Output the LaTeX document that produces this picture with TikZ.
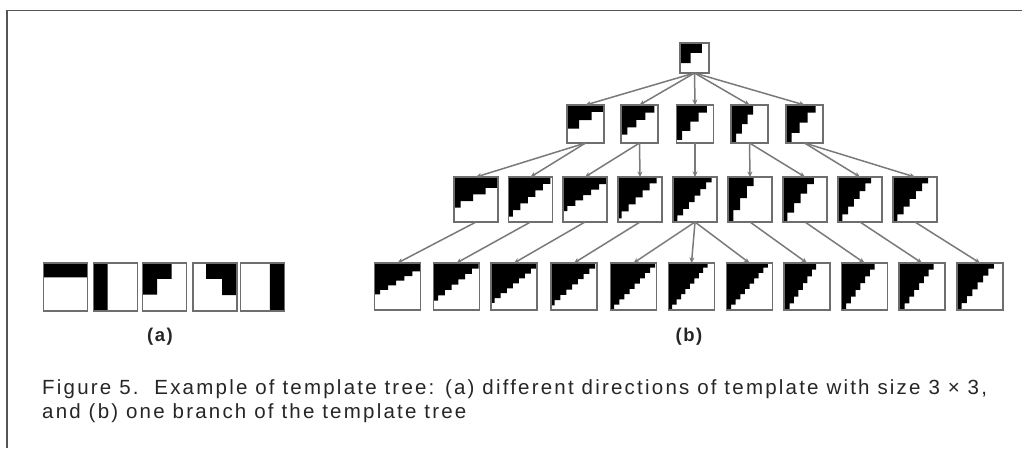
\documentclass[tikz,border=0pt]{standalone}
\usepackage{fontspec}
\setmainfont{Liberation Sans}
\newfontfamily\capfont[LetterSpace=10.8]{Liberation Sans}
\newfontfamily\labfont[LetterSpace=8]{Liberation Sans}
\usetikzlibrary{arrows.meta}

\definecolor{framegray}{HTML}{555555}
\definecolor{edgegray}{HTML}{7A7A7A}
\definecolor{cellgray}{HTML}{6E6E6E}
\definecolor{inkdark}{HTML}{262626}

\tikzset{
  tcell/.style={fill=white, draw=none, inner sep=0pt, outer sep=0pt},
  tframe/.style={draw=cellgray, line width=1.3pt},
  edge/.style={draw=edgegray, line width=1.5pt, -{Stealth[length=5.5pt,width=5pt]}},
  sublabel/.style={font=\labfont\bfseries\fontsize{18.5}{21}\selectfont, text=inkdark, inner sep=0pt},
  caption/.style={font=\capfont\fontsize{20.5}{24}\selectfont, text=inkdark, anchor=base west, inner sep=0pt},
  border/.style={draw=framegray, line width=1.8pt},
}

% template cell: name, centre, width, height,
% first-row width, first-row depth, last-row width, last-row depth, further rows
\newcommand{\tpl}[9]{%
  \node[tcell, minimum width=#3pt, minimum height=#4pt] (#1) at #2 {};
  \begin{scope}[shift={(#1.north west)}, x=#3pt, y=#4pt]
    \fill[black] (0,0) -- (#5,0) -- (#5,-#6)
      \foreach \k in {1,...,#9} {
        -- ++({-(#5-#7)/#9},0) -- ++(0,{-(#8-#6)/#9})
      }
      -- (0,-#8) -- cycle;
    \draw[tframe] (0,0) rectangle (1,-1);
  \end{scope}}
% same cell, black region anchored at the top right corner
\newcommand{\tplr}[9]{%
  \node[tcell, minimum width=#3pt, minimum height=#4pt] (#1) at #2 {};
  \begin{scope}[shift={(#1.north east)}, x=-#3pt, y=#4pt]
    \fill[black] (0,0) -- (#5,0) -- (#5,-#6)
      \foreach \k in {1,...,#9} {
        -- ++({-(#5-#7)/#9},0) -- ++(0,{-(#8-#6)/#9})
      }
      -- (0,-#8) -- cycle;
    \draw[tframe] (0,0) rectangle (1,-1);
  \end{scope}}

\begin{document}
\begin{tikzpicture}[x=1pt, y=-1pt]
\useasboundingbox (0,0) rectangle (1022,448);
\fill[white] (0,0) rectangle (1022,448);

% frame
\draw[border] (7,448) -- (7,10.5) -- (1022,10.5);

% (a) the five 3x3 directions
\tpl{a1}{(65.5,287)}{44}{48}{1}{0.3}{1}{0.3}{1}
\tpl{a2}{(115.5,287)}{44}{48}{0.32}{1}{0.32}{1}{1}
\tpl{a3}{(164.5,287)}{44}{48}{0.66}{0.33}{0.33}{0.66}{1}
\tplr{a4}{(215,287)}{44}{48}{0.7}{0.33}{0.34}{0.67}{1}
\tplr{a5}{(262.5,287)}{44}{48}{0.33}{1}{0.33}{1}{1}
\node[sublabel] (la) at (160,337) {(a)};

% (b) one branch of the tree
\tpl{r}{(694.5,58)}{29}{30}{0.75}{0.33}{0.37}{0.67}{1}

\tpl{m1}{(585.5,124)}{37}{38}{1}{0.18}{0.33}{0.62}{2}
\tpl{m2}{(639.5,124)}{37}{38}{0.9}{0.2}{0.17}{0.78}{3}
\tpl{m3}{(695,124)}{37}{38}{0.82}{0.2}{0.15}{0.92}{3}
\tpl{m4}{(749.5,124)}{37}{38}{0.6}{0.25}{0.14}{1}{3}
\tpl{m5}{(804.5,124)}{37}{38}{0.8}{0.2}{0.15}{1}{3}

\tpl{n1}{(476,199.5)}{44}{45}{1}{0.24}{0.15}{0.68}{3}
\tpl{n2}{(530.5,199.5)}{44}{45}{0.95}{0.15}{0.1}{0.88}{5}
\tpl{n3}{(585,199.5)}{44}{45}{1}{0.16}{0.1}{0.76}{5}
\tpl{n4}{(640,199.5)}{44}{45}{0.88}{0.14}{0.08}{0.92}{5}
\tpl{n5}{(695,199.5)}{44}{45}{0.88}{0.12}{0.1}{1}{6}
\tpl{n6}{(750,199.5)}{44}{45}{0.58}{0.2}{0.12}{1}{3}
\tpl{n7}{(805,199.5)}{44}{45}{0.7}{0.16}{0.1}{1}{4}
\tpl{n8}{(860,199.5)}{44}{45}{0.75}{0.14}{0.1}{1}{5}
\tpl{n9}{(915,199.5)}{44}{45}{0.8}{0.14}{0.1}{1}{5}

\tpl{p1}{(397.5,286.5)}{46}{47}{1}{0.18}{0.12}{0.67}{5}
\tpl{p2}{(456.5,286.5)}{46}{47}{0.98}{0.12}{0.1}{0.8}{6}
\tpl{p3}{(514,286.5)}{46}{47}{1}{0.12}{0.08}{0.85}{7}
\tpl{p4}{(574,286.5)}{46}{47}{0.96}{0.12}{0.08}{0.9}{7}
\tpl{p5}{(633.5,286.5)}{46}{47}{0.97}{0.1}{0.08}{1}{8}
\tpl{p6}{(691.5,286.5)}{46}{47}{0.85}{0.1}{0.08}{1}{8}
\tpl{p7}{(749.5,286.5)}{46}{47}{0.9}{0.1}{0.1}{1}{8}
\tpl{p8}{(807,286.5)}{46}{47}{0.7}{0.14}{0.12}{1}{6}
\tpl{p9}{(864.5,286.5)}{46}{47}{0.72}{0.14}{0.1}{1}{6}
\tpl{p10}{(922,286.5)}{46}{47}{0.75}{0.14}{0.12}{1}{6}
\tpl{p11}{(980,286.5)}{46}{47}{0.8}{0.12}{0.1}{1}{6}

\node[sublabel] (lb) at (689,337) {(b)};

% connectors
\foreach \c in {m1,m2,m3,m4,m5} \draw[edge] (r.south) -- (\c.north);
\draw[edge] (m1.south) -- (n1.north);
\draw[edge] (m1.south) -- (n2.north);
\draw[edge] (m2.south) -- (n3.north);
\draw[edge] (m2.south) -- (n4.north);
\draw[edge] (m3.south) -- (n5.north);
\draw[edge] (m4.south) -- (n6.north);
\draw[edge] (m4.south) -- (n7.north);
\draw[edge] (m5.south) -- (n8.north);
\draw[edge] (m5.south) -- (n9.north);
\draw[edge] (n1.south) -- (p1.north);
\draw[edge] (n2.south) -- (p2.north);
\draw[edge] (n3.south) -- (p3.north);
\draw[edge] (n4.south) -- (p4.north);
\draw[edge] (n5.south) -- (p5.north);
\draw[edge] (n5.south) -- (p6.north);
\draw[edge] (n5.south) -- (p7.north);
\draw[edge] (n6.south) -- (p8.north);
\draw[edge] (n7.south) -- (p9.north);
\draw[edge] (n8.south) -- (p10.north);
\draw[edge] (n9.south) -- (p11.north);

% caption
\node[caption] (cap1) at (42,394) {Figure 5.\ \ Example of template tree: (a) different directions of template with size 3 × 3,};
\node[caption] (cap2) at (42,418) {and (b) one branch of the template tree};
\end{tikzpicture}
\end{document}
